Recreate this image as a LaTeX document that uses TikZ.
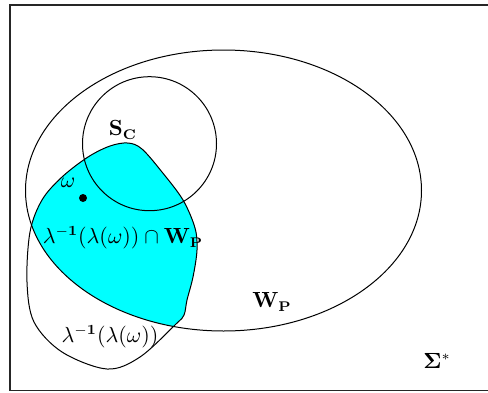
\documentclass[tikz,border=0pt]{standalone}
\usepackage{amsmath}
\definecolor{aqua}{RGB}{0,255,255}
\begin{document}
\begin{tikzpicture}[x=0.5pt,y=-0.5pt,
  outline/.style={draw=black,line width=0.5pt},
  lbl/.style={inner sep=0pt,font=\fontsize{10.5}{12}\selectfont}]
\useasboundingbox (0,0) rectangle (488,392);
\def\lambdashape{plot[smooth cycle,tension=0.55] coordinates {
  (128,143) (142,149) (162,172) (183,200) (195,228) (197,250) (193,277)
  (187,300) (184,315) (176,324) (140,357) (107,369)
  (62,352) (34,322) (27,282) (30,232)
  (42,200) (62,177) (88,157) (110,146)}}
\begin{scope}
  \clip (223.5,190.5) ellipse [x radius=99pt, y radius=70.25pt];
  \fill[aqua] \lambdashape;
\end{scope}
\draw[outline] \lambdashape;
\draw[outline] (223.5,190.5) ellipse [x radius=99pt, y radius=70.25pt];
\draw[outline] (149.5,143.7) circle [radius=33.5pt];
\draw[draw=black!85,line width=0.6pt] (492,5) -- (10,5) -- (10,390.5) -- (492,390.5);
\fill (83,198) circle [radius=2pt];
\node[lbl] (om) at (68,183) {$\omega$};
\node[lbl] (sc) at (123,130) {$\mathbf{S_C}$};
\node[lbl] (inter) at (123,238) {$\lambda^{\mathbf{-1}}(\lambda(\omega))\cap\mathbf{W_P}$};
\node[lbl] (wp) at (272,302) {$\mathbf{W_P}$};
\node[lbl] (pre) at (110,337) {$\lambda^{\mathbf{-1}}(\lambda(\omega))$};
\node[lbl] (sig) at (437,361) {$\mathbf{\Sigma}^*$};
\end{tikzpicture}
\end{document}
